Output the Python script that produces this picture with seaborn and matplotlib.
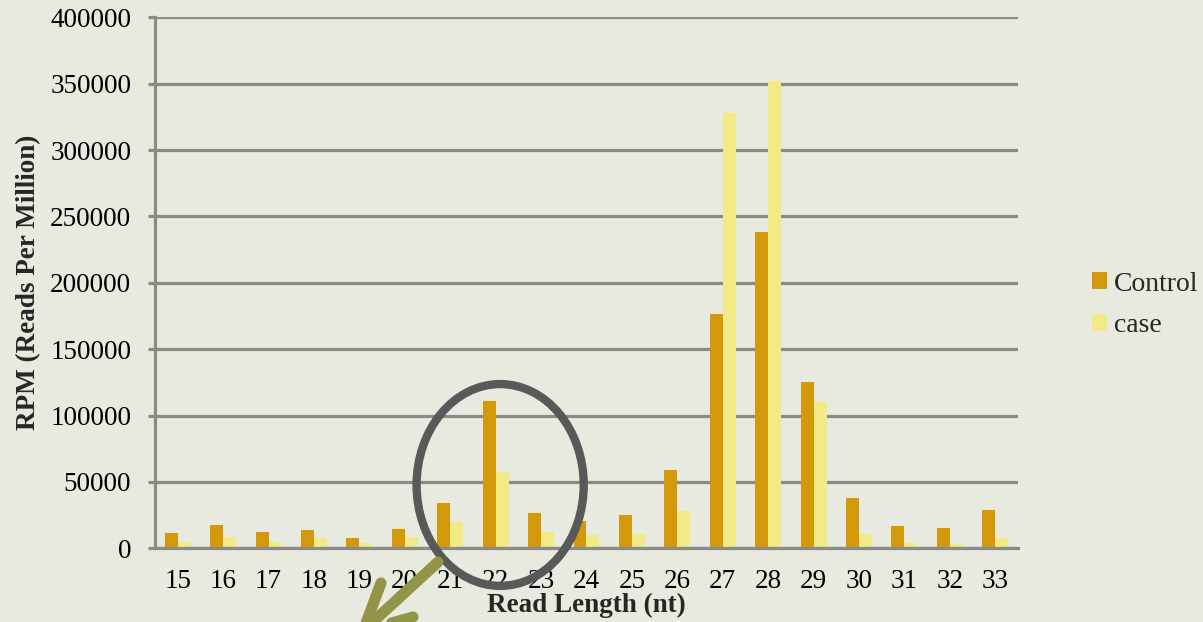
import matplotlib
matplotlib.use("Agg")
import matplotlib.pyplot as plt
from matplotlib.lines import Line2D
from matplotlib.patches import Ellipse
from matplotlib.ticker import FixedLocator
from matplotlib.transforms import IdentityTransform
import pandas as pd
import seaborn as sns

# Read-length distribution of small RNA reads (reads per million)
read_lengths = [15, 16, 17, 18, 19, 20, 21, 22, 23, 24,
                25, 26, 27, 28, 29, 30, 31, 32, 33]
control_rpm = [11400, 17700, 11900, 13700, 7400, 14900, 34400, 111100, 26700, 20700,
               25200, 59000, 176500, 238200, 125200, 37700, 16700, 15600, 28700]
case_rpm = [4900, 8400, 5100, 8100, 4100, 8400, 19900, 57500, 11900, 9900,
            10900, 28200, 328000, 352000, 109900, 10900, 3900, 3400, 8100]
group_names = ["Control", "case"]
y_ticks = [0, 50000, 100000, 150000, 200000, 250000, 300000, 350000, 400000]

df = pd.DataFrame({
    "length": [str(v) for v in read_lengths] * 2,
    "group": [group_names[0]] * len(read_lengths) + [group_names[1]] * len(read_lengths),
    "rpm": control_rpm + case_rpm,
})

BG = "#e8eadf"
GRID = "#8a8a8a"
sns.set_theme(style="white")
plt.rcParams["font.family"] = ["Liberation Serif", "DejaVu Serif"]

fig = plt.figure(figsize=(12.03, 6.22), dpi=100, facecolor=BG)
ax = fig.add_axes([0.1288, 0.1185, 0.7174, 0.8537])
ax.set_facecolor(BG)

sns.barplot(data=df, x="length", y="rpm", hue="group",
            palette=["#d4990a", "#f2ea86"], width=0.57, saturation=1,
            linewidth=0, ax=ax, legend=True, zorder=3)

ax.set_ylim(0, 400000)
ax.set_xlim(-0.5, len(read_lengths) - 0.5)
ax.set_yticks(y_ticks)
ax.set_yticklabels([str(v) for v in y_ticks])
ax.yaxis.grid(True, color=GRID, linewidth=2.3)
ax.xaxis.grid(False)
ax.set_axisbelow(True)

for side in ["top", "right"]:
    ax.spines[side].set_visible(False)
for side in ["left", "bottom"]:
    ax.spines[side].set_color(GRID)
    ax.spines[side].set_linewidth(2.3)
    ax.spines[side].set_zorder(4)

# category boundary ticks on the x axis
ax.xaxis.set_minor_locator(FixedLocator([i - 0.5 for i in range(len(read_lengths) + 1)]))
ax.tick_params(axis="x", which="major", length=0, pad=15, labelsize=19.5, labelcolor="black")
ax.tick_params(axis="x", which="minor", length=5.5, width=2.3, color=GRID, direction="out")
ax.tick_params(axis="y", which="major", length=5, width=2.3, color=GRID, pad=12,
               labelsize=19.5, labelcolor="black", left=True)

ax.set_xlabel("Read Length (nt)", fontsize=19.5, fontweight="bold", va="center")
ax.xaxis.set_label_coords(0.5, -0.108)
ax.set_ylabel("RPM (Reads Per Million)", fontsize=19.5, fontweight="bold", va="center")
ax.yaxis.set_label_coords(-0.146, 0.5)

handles, labels = ax.get_legend_handles_labels()
ax.legend(handles, labels, loc="center left",
          bbox_to_anchor=(1092 / 1203, 1 - 305 / 622), bbox_transform=fig.transFigure,
          frameon=False, fontsize=20, handlelength=0.55, handleheight=0.55,
          handletextpad=0.25, labelspacing=0.6, borderpad=0, borderaxespad=0)

# highlight the 21-23 nt window
ring = Ellipse((7.1, 47700), width=3.68, height=152000, fill=False,
               edgecolor="#595959", linewidth=6, zorder=6, clip_on=False)
ax.add_patch(ring)

# pointer arrow leaving the chart at the bottom (figure pixel coordinates)
H = 622
arrow_style = dict(color="#929447", linewidth=8, solid_capstyle="round",
                   solid_joinstyle="round", transform=IdentityTransform(), zorder=10)
tip = (363, H - 631)
fig.add_artist(Line2D([438, tip[0]], [H - 562, tip[1]], **arrow_style))
fig.add_artist(Line2D([381, tip[0], 413], [H - 583, tip[1], H - 617], **arrow_style))

fig.savefig("out.png", dpi=100, facecolor=BG)
